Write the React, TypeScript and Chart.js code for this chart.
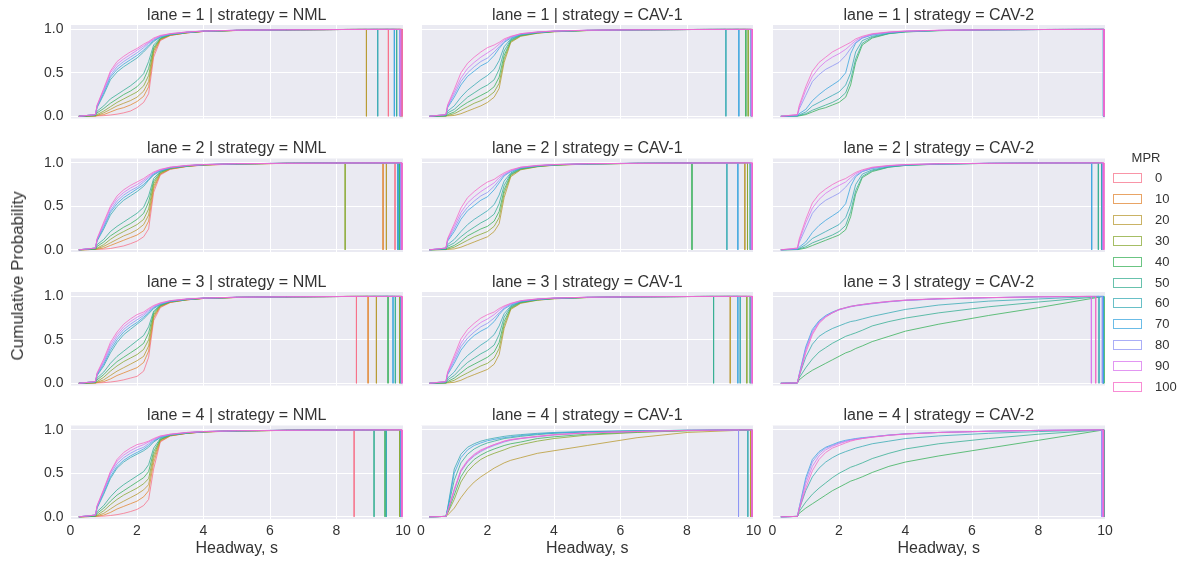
import React, { useEffect, useRef } from "react";
import { Chart, registerables } from "chart.js";

Chart.register(...registerables);

const PAGE_W = 1187;
const PAGE_H = 563;
const FONT = "'Liberation Sans', Arial, Helvetica, sans-serif";
const INK = "#333333";
const PLOT_BG = "#eaeaf2";

// ---------- data ----------
const headwayGrid = [0.25, 0.75, 0.8, 1.0, 1.2, 1.4, 1.6, 1.8, 2.0, 2.2, 2.35, 2.5, 2.7, 3.0, 3.5, 4.0, 5.0, 6.5, 8.0];
const mprLevels = [0, 10, 20, 30, 40, 50, 60, 70, 80, 90, 100];
const mprColors = ["#f77189", "#e18632", "#b89a31", "#88a831", "#39b15a", "#35ae92", "#37abb4", "#3aa5df", "#8d93f4", "#d873ee", "#f566c6"];
const lanes = [1, 2, 3, 4];
const strategies = ["NML", "CAV-1", "CAV-2"];
const nmlMpr = [0, 10, 20, 30, 40, 50, 60, 70, 80, 90, 100];
const cav1Mpr = [20, 30, 40, 50, 60, 70, 80, 90, 100];
const cav2Mpr = [40, 50, 60, 70, 80, 90, 100];
const xTicks = [0, 2, 4, 6, 8, 10];
const yTicks = [0, 0.5, 1.0];

// NML
const nmlLane1 = [
  [0, 0.005, 0.005, 0.008, 0.015, 0.025, 0.04, 0.06, 0.1, 0.16, 0.26, 0.68, 0.87, 0.93, 0.96, 0.975, 0.987, 0.994, 0.998],
  [0, 0.005, 0.008, 0.02, 0.05, 0.08, 0.1, 0.13, 0.17, 0.23, 0.34, 0.72, 0.88, 0.93, 0.96, 0.976, 0.987, 0.994, 0.998],
  [0, 0.005, 0.01, 0.04, 0.08, 0.12, 0.15, 0.18, 0.22, 0.29, 0.4, 0.75, 0.885, 0.935, 0.96, 0.977, 0.988, 0.994, 0.998],
  [0, 0.005, 0.02, 0.06, 0.11, 0.16, 0.2, 0.24, 0.28, 0.35, 0.47, 0.77, 0.89, 0.935, 0.962, 0.977, 0.988, 0.994, 0.998],
  [0, 0.01, 0.04, 0.09, 0.15, 0.2, 0.25, 0.29, 0.34, 0.42, 0.55, 0.79, 0.895, 0.94, 0.963, 0.978, 0.988, 0.995, 0.998],
  [0, 0.01, 0.06, 0.12, 0.2, 0.25, 0.3, 0.35, 0.41, 0.49, 0.63, 0.82, 0.9, 0.94, 0.965, 0.978, 0.988, 0.995, 0.998],
  [0, 0.02, 0.1, 0.25, 0.42, 0.51, 0.57, 0.62, 0.67, 0.74, 0.8, 0.86, 0.91, 0.94, 0.965, 0.978, 0.989, 0.995, 0.998],
  [0, 0.02, 0.11, 0.27, 0.45, 0.54, 0.6, 0.65, 0.7, 0.76, 0.82, 0.87, 0.915, 0.945, 0.967, 0.98, 0.989, 0.995, 0.998],
  [0, 0.02, 0.12, 0.29, 0.47, 0.57, 0.63, 0.68, 0.73, 0.79, 0.84, 0.88, 0.92, 0.945, 0.967, 0.98, 0.99, 0.995, 0.998],
  [0, 0.02, 0.12, 0.31, 0.5, 0.6, 0.66, 0.71, 0.76, 0.81, 0.85, 0.89, 0.925, 0.95, 0.97, 0.98, 0.99, 0.995, 0.998],
  [0, 0.02, 0.13, 0.32, 0.52, 0.63, 0.69, 0.74, 0.78, 0.83, 0.86, 0.9, 0.93, 0.95, 0.97, 0.98, 0.99, 0.995, 0.998],
];
const nmlLane1End = [9.56, 9.99, 8.9, 9.95, 9.93, 9.81, 9.24, 9.74, 9.9, 9.93, 9.97];

const nmlLane2 = [
  [0, 0.005, 0.005, 0.008, 0.015, 0.03, 0.045, 0.07, 0.1, 0.15, 0.24, 0.66, 0.86, 0.925, 0.958, 0.974, 0.986, 0.994, 0.998],
  [0, 0.005, 0.008, 0.02, 0.05, 0.08, 0.11, 0.14, 0.17, 0.22, 0.33, 0.7, 0.87, 0.93, 0.96, 0.975, 0.987, 0.994, 0.998],
  [0, 0.005, 0.012, 0.04, 0.08, 0.12, 0.16, 0.19, 0.23, 0.29, 0.4, 0.73, 0.875, 0.93, 0.96, 0.976, 0.987, 0.994, 0.998],
  [0, 0.006, 0.02, 0.06, 0.12, 0.17, 0.21, 0.25, 0.29, 0.35, 0.47, 0.76, 0.885, 0.935, 0.962, 0.977, 0.988, 0.994, 0.998],
  [0, 0.01, 0.04, 0.09, 0.16, 0.21, 0.26, 0.3, 0.35, 0.42, 0.55, 0.79, 0.89, 0.94, 0.963, 0.978, 0.988, 0.995, 0.998],
  [0, 0.01, 0.06, 0.12, 0.21, 0.27, 0.32, 0.37, 0.42, 0.49, 0.62, 0.82, 0.9, 0.94, 0.965, 0.978, 0.988, 0.995, 0.998],
  [0, 0.02, 0.1, 0.24, 0.4, 0.5, 0.57, 0.62, 0.67, 0.73, 0.8, 0.86, 0.905, 0.94, 0.965, 0.978, 0.989, 0.995, 0.998],
  [0, 0.02, 0.11, 0.26, 0.43, 0.53, 0.6, 0.65, 0.7, 0.75, 0.81, 0.87, 0.91, 0.945, 0.967, 0.98, 0.989, 0.995, 0.998],
  [0, 0.02, 0.12, 0.28, 0.45, 0.56, 0.63, 0.68, 0.72, 0.78, 0.83, 0.875, 0.915, 0.945, 0.967, 0.98, 0.99, 0.995, 0.998],
  [0, 0.02, 0.12, 0.3, 0.48, 0.59, 0.66, 0.71, 0.75, 0.8, 0.845, 0.885, 0.92, 0.95, 0.97, 0.98, 0.99, 0.995, 0.998],
  [0, 0.02, 0.13, 0.32, 0.5, 0.62, 0.69, 0.74, 0.78, 0.82, 0.86, 0.895, 0.925, 0.95, 0.97, 0.98, 0.99, 0.995, 0.998],
];
const nmlLane2End = [9.76, 9.4, 9.5, 8.26, 9.9, 9.85, 9.95, 9.85, 9.93, 9.97, 9.97];

const nmlLane3 = [
  [0, 0.005, 0.005, 0.008, 0.015, 0.025, 0.04, 0.06, 0.08, 0.14, 0.3, 0.72, 0.87, 0.93, 0.96, 0.975, 0.987, 0.994, 0.998],
  [0, 0.005, 0.008, 0.02, 0.05, 0.09, 0.12, 0.15, 0.18, 0.24, 0.37, 0.75, 0.88, 0.93, 0.96, 0.976, 0.987, 0.994, 0.998],
  [0, 0.005, 0.012, 0.04, 0.09, 0.14, 0.18, 0.22, 0.26, 0.31, 0.43, 0.77, 0.885, 0.935, 0.96, 0.977, 0.988, 0.994, 0.998],
  [0, 0.006, 0.02, 0.07, 0.14, 0.2, 0.25, 0.29, 0.33, 0.39, 0.5, 0.79, 0.89, 0.935, 0.962, 0.977, 0.988, 0.994, 0.998],
  [0, 0.01, 0.04, 0.1, 0.18, 0.25, 0.3, 0.35, 0.4, 0.46, 0.58, 0.81, 0.895, 0.94, 0.963, 0.978, 0.988, 0.995, 0.998],
  [0, 0.01, 0.06, 0.13, 0.23, 0.31, 0.37, 0.43, 0.49, 0.55, 0.65, 0.83, 0.9, 0.94, 0.965, 0.978, 0.988, 0.995, 0.998],
  [0, 0.02, 0.09, 0.2, 0.35, 0.47, 0.56, 0.62, 0.68, 0.74, 0.8, 0.86, 0.905, 0.94, 0.965, 0.978, 0.989, 0.995, 0.998],
  [0, 0.02, 0.1, 0.22, 0.38, 0.5, 0.59, 0.65, 0.7, 0.76, 0.81, 0.87, 0.91, 0.945, 0.967, 0.98, 0.989, 0.995, 0.998],
  [0, 0.02, 0.11, 0.24, 0.41, 0.53, 0.62, 0.68, 0.73, 0.78, 0.83, 0.875, 0.915, 0.945, 0.967, 0.98, 0.99, 0.995, 0.998],
  [0, 0.02, 0.11, 0.26, 0.44, 0.56, 0.65, 0.71, 0.76, 0.8, 0.845, 0.885, 0.92, 0.95, 0.97, 0.98, 0.99, 0.995, 0.998],
  [0, 0.02, 0.12, 0.28, 0.47, 0.59, 0.68, 0.74, 0.79, 0.82, 0.86, 0.895, 0.925, 0.95, 0.97, 0.98, 0.99, 0.995, 0.998],
];
const nmlLane3End = [8.6, 8.95, 9.2, 9.9, 9.55, 9.77, 9.93, 9.7, 9.95, 9.97, 9.97];

const nmlLane4 = [
  [0, 0.005, 0.005, 0.008, 0.015, 0.025, 0.04, 0.06, 0.085, 0.13, 0.2, 0.55, 0.86, 0.93, 0.96, 0.975, 0.987, 0.994, 0.998],
  [0, 0.005, 0.008, 0.02, 0.05, 0.09, 0.12, 0.15, 0.18, 0.23, 0.3, 0.62, 0.87, 0.93, 0.96, 0.976, 0.987, 0.994, 0.998],
  [0, 0.005, 0.012, 0.04, 0.09, 0.14, 0.18, 0.22, 0.26, 0.31, 0.37, 0.67, 0.88, 0.935, 0.96, 0.977, 0.988, 0.994, 0.998],
  [0, 0.006, 0.02, 0.07, 0.14, 0.2, 0.25, 0.29, 0.33, 0.38, 0.44, 0.71, 0.885, 0.935, 0.962, 0.977, 0.988, 0.994, 0.998],
  [0, 0.01, 0.04, 0.1, 0.18, 0.25, 0.3, 0.35, 0.4, 0.45, 0.52, 0.75, 0.89, 0.94, 0.963, 0.978, 0.988, 0.995, 0.998],
  [0, 0.01, 0.06, 0.13, 0.23, 0.31, 0.37, 0.42, 0.47, 0.52, 0.6, 0.79, 0.9, 0.94, 0.965, 0.978, 0.988, 0.995, 0.998],
  [0, 0.02, 0.1, 0.26, 0.44, 0.56, 0.63, 0.68, 0.72, 0.76, 0.8, 0.86, 0.91, 0.94, 0.965, 0.978, 0.989, 0.995, 0.998],
  [0, 0.02, 0.11, 0.28, 0.46, 0.58, 0.65, 0.7, 0.74, 0.78, 0.82, 0.87, 0.915, 0.945, 0.967, 0.98, 0.989, 0.995, 0.998],
  [0, 0.02, 0.12, 0.3, 0.49, 0.61, 0.68, 0.73, 0.77, 0.8, 0.84, 0.88, 0.92, 0.945, 0.967, 0.98, 0.99, 0.995, 0.998],
  [0, 0.02, 0.12, 0.31, 0.51, 0.64, 0.71, 0.76, 0.8, 0.83, 0.86, 0.89, 0.925, 0.95, 0.97, 0.98, 0.99, 0.995, 0.998],
  [0, 0.02, 0.13, 0.32, 0.52, 0.66, 0.74, 0.79, 0.83, 0.85, 0.87, 0.9, 0.93, 0.95, 0.97, 0.98, 0.99, 0.995, 0.998],
];
const nmlLane4End = [8.53, 9.95, 9.93, 9.9, 9.46, 9.13, 9.5, 9.93, 9.95, 9.97, 9.97];

// CAV-1
const cav1Lane1 = [
  [0, 0.003, 0.005, 0.01, 0.03, 0.06, 0.09, 0.12, 0.16, 0.22, 0.32, 0.62, 0.85, 0.92, 0.955, 0.972, 0.986, 0.994, 0.998],
  [0, 0.004, 0.01, 0.03, 0.07, 0.11, 0.15, 0.18, 0.22, 0.28, 0.38, 0.66, 0.86, 0.925, 0.957, 0.974, 0.987, 0.994, 0.998],
  [0, 0.005, 0.02, 0.05, 0.11, 0.16, 0.2, 0.24, 0.28, 0.34, 0.45, 0.7, 0.87, 0.93, 0.96, 0.975, 0.987, 0.994, 0.998],
  [0, 0.008, 0.04, 0.08, 0.15, 0.22, 0.27, 0.32, 0.36, 0.42, 0.54, 0.75, 0.88, 0.935, 0.962, 0.976, 0.988, 0.995, 0.998],
  [0, 0.01, 0.06, 0.12, 0.22, 0.3, 0.36, 0.42, 0.47, 0.54, 0.64, 0.8, 0.89, 0.94, 0.965, 0.978, 0.988, 0.995, 0.998],
  [0, 0.02, 0.1, 0.22, 0.36, 0.46, 0.52, 0.58, 0.62, 0.7, 0.78, 0.85, 0.9, 0.94, 0.965, 0.978, 0.989, 0.995, 0.998],
  [0, 0.02, 0.11, 0.25, 0.4, 0.5, 0.57, 0.63, 0.67, 0.74, 0.8, 0.86, 0.91, 0.945, 0.967, 0.98, 0.989, 0.995, 0.998],
  [0, 0.02, 0.12, 0.28, 0.44, 0.55, 0.62, 0.68, 0.73, 0.78, 0.83, 0.875, 0.915, 0.95, 0.97, 0.98, 0.99, 0.995, 0.998],
  [0, 0.02, 0.13, 0.31, 0.5, 0.61, 0.68, 0.74, 0.79, 0.82, 0.85, 0.89, 0.92, 0.95, 0.97, 0.98, 0.99, 0.995, 0.998],
];
const cav1Lane1End = [9.95, 9.84, 9.77, 9.93, 9.17, 9.56, 9.93, 9.95, 9.97];

const cav1Lane2 = [
  [0, 0.003, 0.005, 0.01, 0.03, 0.06, 0.09, 0.12, 0.15, 0.21, 0.3, 0.6, 0.84, 0.92, 0.955, 0.972, 0.986, 0.994, 0.998],
  [0, 0.004, 0.01, 0.03, 0.07, 0.11, 0.15, 0.18, 0.21, 0.27, 0.37, 0.65, 0.855, 0.925, 0.957, 0.974, 0.987, 0.994, 0.998],
  [0, 0.005, 0.02, 0.05, 0.1, 0.16, 0.2, 0.24, 0.27, 0.33, 0.44, 0.69, 0.865, 0.93, 0.96, 0.975, 0.987, 0.994, 0.998],
  [0, 0.008, 0.04, 0.08, 0.15, 0.21, 0.26, 0.31, 0.35, 0.41, 0.53, 0.74, 0.875, 0.935, 0.962, 0.976, 0.988, 0.995, 0.998],
  [0, 0.01, 0.06, 0.12, 0.21, 0.29, 0.35, 0.4, 0.45, 0.52, 0.63, 0.79, 0.885, 0.94, 0.965, 0.978, 0.988, 0.995, 0.998],
  [0, 0.02, 0.1, 0.21, 0.35, 0.45, 0.51, 0.57, 0.61, 0.69, 0.77, 0.85, 0.9, 0.94, 0.965, 0.978, 0.989, 0.995, 0.998],
  [0, 0.02, 0.11, 0.24, 0.39, 0.49, 0.56, 0.62, 0.66, 0.73, 0.8, 0.86, 0.905, 0.945, 0.967, 0.98, 0.989, 0.995, 0.998],
  [0, 0.02, 0.12, 0.27, 0.43, 0.54, 0.61, 0.67, 0.72, 0.77, 0.83, 0.87, 0.91, 0.95, 0.97, 0.98, 0.99, 0.995, 0.998],
  [0, 0.02, 0.13, 0.3, 0.48, 0.6, 0.67, 0.73, 0.78, 0.81, 0.85, 0.885, 0.92, 0.95, 0.97, 0.98, 0.99, 0.995, 0.998],
];
const cav1Lane2End = [9.74, 9.82, 8.15, 9.9, 9.2, 9.53, 9.93, 9.95, 9.97];

const cav1Lane3 = [
  [0, 0.003, 0.005, 0.012, 0.035, 0.07, 0.1, 0.13, 0.16, 0.22, 0.33, 0.63, 0.85, 0.92, 0.955, 0.972, 0.986, 0.994, 0.998],
  [0, 0.004, 0.01, 0.035, 0.08, 0.12, 0.16, 0.2, 0.23, 0.29, 0.4, 0.67, 0.86, 0.925, 0.957, 0.974, 0.987, 0.994, 0.998],
  [0, 0.005, 0.02, 0.06, 0.12, 0.18, 0.22, 0.26, 0.3, 0.36, 0.47, 0.71, 0.87, 0.93, 0.96, 0.975, 0.987, 0.994, 0.998],
  [0, 0.008, 0.04, 0.09, 0.17, 0.24, 0.29, 0.34, 0.38, 0.44, 0.56, 0.76, 0.88, 0.935, 0.962, 0.976, 0.988, 0.995, 0.998],
  [0, 0.01, 0.06, 0.13, 0.24, 0.32, 0.38, 0.44, 0.49, 0.56, 0.66, 0.8, 0.89, 0.94, 0.965, 0.978, 0.988, 0.995, 0.998],
  [0, 0.02, 0.1, 0.23, 0.38, 0.48, 0.55, 0.6, 0.64, 0.71, 0.79, 0.855, 0.9, 0.94, 0.965, 0.978, 0.989, 0.995, 0.998],
  [0, 0.02, 0.11, 0.26, 0.42, 0.52, 0.59, 0.65, 0.69, 0.75, 0.81, 0.865, 0.91, 0.945, 0.967, 0.98, 0.989, 0.995, 0.998],
  [0, 0.02, 0.12, 0.29, 0.46, 0.57, 0.64, 0.7, 0.74, 0.79, 0.84, 0.88, 0.915, 0.95, 0.97, 0.98, 0.99, 0.995, 0.998],
  [0, 0.02, 0.13, 0.32, 0.51, 0.62, 0.69, 0.75, 0.79, 0.82, 0.86, 0.89, 0.92, 0.95, 0.97, 0.98, 0.99, 0.995, 0.998],
];
const cav1Lane3End = [9.3, 9.8, 9.9, 8.8, 9.6, 9.53, 9.93, 9.95, 9.97];

const cav1Lane4 = [
  [0, 0.005, 0.02, 0.1, 0.22, 0.32, 0.4, 0.46, 0.51, 0.56, 0.59, 0.62, 0.65, 0.68, 0.73, 0.76, 0.82, 0.91, 0.97],
  [0, 0.005, 0.04, 0.2, 0.4, 0.52, 0.6, 0.66, 0.7, 0.73, 0.75, 0.77, 0.8, 0.83, 0.87, 0.9, 0.94, 0.97, 0.99],
  [0, 0.005, 0.05, 0.25, 0.46, 0.58, 0.66, 0.71, 0.75, 0.78, 0.8, 0.82, 0.84, 0.86, 0.9, 0.92, 0.95, 0.975, 0.99],
  [0, 0.005, 0.08, 0.42, 0.62, 0.72, 0.78, 0.82, 0.85, 0.87, 0.885, 0.9, 0.91, 0.925, 0.945, 0.96, 0.975, 0.987, 0.995],
  [0, 0.005, 0.1, 0.55, 0.72, 0.8, 0.84, 0.87, 0.89, 0.905, 0.915, 0.925, 0.935, 0.945, 0.96, 0.97, 0.982, 0.99, 0.996],
  [0, 0.005, 0.09, 0.5, 0.68, 0.77, 0.82, 0.85, 0.875, 0.89, 0.9, 0.91, 0.92, 0.935, 0.952, 0.965, 0.978, 0.988, 0.995],
  [0, 0.005, 0.06, 0.3, 0.52, 0.63, 0.7, 0.75, 0.79, 0.82, 0.84, 0.86, 0.88, 0.9, 0.92, 0.94, 0.965, 0.98, 0.993],
  [0, 0.005, 0.06, 0.32, 0.54, 0.65, 0.72, 0.77, 0.8, 0.83, 0.85, 0.87, 0.89, 0.905, 0.925, 0.945, 0.967, 0.982, 0.994],
  [0, 0.005, 0.06, 0.31, 0.53, 0.64, 0.71, 0.76, 0.8, 0.83, 0.85, 0.87, 0.885, 0.9, 0.925, 0.943, 0.966, 0.981, 0.994],
];
const cav1Lane4End = [9.91, 9.95, 9.95, 9.95, 9.83, 9.95, 9.55, 9.95, 9.96];

// CAV-2
const cav2Lane1 = [
  [0, 0.003, 0.005, 0.02, 0.05, 0.08, 0.1, 0.13, 0.16, 0.22, 0.36, 0.62, 0.82, 0.9, 0.95, 0.97, 0.985, 0.994, 0.998],
  [0, 0.004, 0.01, 0.03, 0.07, 0.1, 0.13, 0.16, 0.2, 0.27, 0.42, 0.66, 0.84, 0.91, 0.952, 0.972, 0.986, 0.994, 0.998],
  [0, 0.005, 0.015, 0.05, 0.12, 0.16, 0.2, 0.24, 0.28, 0.36, 0.5, 0.74, 0.87, 0.92, 0.955, 0.974, 0.987, 0.994, 0.998],
  [0, 0.008, 0.03, 0.08, 0.18, 0.25, 0.31, 0.36, 0.41, 0.5, 0.72, 0.84, 0.9, 0.935, 0.962, 0.976, 0.988, 0.995, 0.998],
  [0, 0.01, 0.08, 0.24, 0.4, 0.48, 0.54, 0.58, 0.62, 0.7, 0.78, 0.85, 0.9, 0.94, 0.965, 0.978, 0.988, 0.995, 0.998],
  [0, 0.02, 0.1, 0.3, 0.46, 0.56, 0.63, 0.68, 0.72, 0.77, 0.82, 0.87, 0.91, 0.945, 0.967, 0.98, 0.989, 0.995, 0.998],
  [0, 0.02, 0.12, 0.34, 0.52, 0.62, 0.68, 0.74, 0.78, 0.82, 0.85, 0.89, 0.92, 0.95, 0.97, 0.98, 0.99, 0.995, 0.998],
];
const cav2Lane1End = [9.97, 9.96, 9.97, 9.95, 9.97, 9.97, 9.97];

const cav2Lane2 = [
  [0, 0.003, 0.005, 0.02, 0.05, 0.08, 0.11, 0.14, 0.17, 0.23, 0.38, 0.64, 0.83, 0.9, 0.95, 0.97, 0.985, 0.994, 0.998],
  [0, 0.004, 0.01, 0.035, 0.08, 0.11, 0.14, 0.17, 0.21, 0.28, 0.44, 0.68, 0.845, 0.91, 0.952, 0.972, 0.986, 0.994, 0.998],
  [0, 0.005, 0.015, 0.06, 0.13, 0.17, 0.21, 0.25, 0.29, 0.37, 0.52, 0.75, 0.87, 0.92, 0.955, 0.974, 0.987, 0.994, 0.998],
  [0, 0.008, 0.03, 0.09, 0.2, 0.28, 0.34, 0.39, 0.44, 0.53, 0.73, 0.84, 0.9, 0.935, 0.962, 0.976, 0.988, 0.995, 0.998],
  [0, 0.01, 0.08, 0.25, 0.42, 0.51, 0.57, 0.61, 0.65, 0.72, 0.79, 0.855, 0.9, 0.94, 0.965, 0.978, 0.988, 0.995, 0.998],
  [0, 0.02, 0.1, 0.31, 0.48, 0.58, 0.65, 0.7, 0.74, 0.78, 0.83, 0.875, 0.91, 0.945, 0.967, 0.98, 0.989, 0.995, 0.998],
  [0, 0.02, 0.12, 0.35, 0.54, 0.64, 0.7, 0.75, 0.79, 0.82, 0.855, 0.89, 0.92, 0.95, 0.97, 0.98, 0.99, 0.995, 0.998],
];
const cav2Lane2End = [9.9, 9.8, 9.9, 9.6, 9.93, 9.95, 9.97];

const cav2Lane3 = [
  [0, 0.005, 0.04, 0.1, 0.15, 0.19, 0.23, 0.27, 0.31, 0.35, 0.37, 0.4, 0.43, 0.48, 0.54, 0.6, 0.68, 0.78, 0.87],
  [0, 0.005, 0.06, 0.18, 0.28, 0.36, 0.41, 0.46, 0.5, 0.54, 0.56, 0.58, 0.61, 0.66, 0.71, 0.75, 0.81, 0.88, 0.935],
  [0, 0.005, 0.08, 0.3, 0.45, 0.54, 0.59, 0.63, 0.66, 0.69, 0.71, 0.72, 0.74, 0.77, 0.81, 0.85, 0.9, 0.945, 0.97],
  [0, 0.005, 0.1, 0.42, 0.62, 0.72, 0.78, 0.82, 0.85, 0.87, 0.885, 0.895, 0.905, 0.92, 0.94, 0.955, 0.972, 0.985, 0.995],
  [0, 0.005, 0.09, 0.4, 0.6, 0.71, 0.77, 0.81, 0.845, 0.865, 0.88, 0.89, 0.9, 0.915, 0.937, 0.953, 0.97, 0.984, 0.994],
  [0, 0.005, 0.09, 0.38, 0.58, 0.7, 0.77, 0.81, 0.845, 0.868, 0.882, 0.893, 0.905, 0.92, 0.94, 0.955, 0.972, 0.985, 0.995],
  [0, 0.005, 0.08, 0.35, 0.56, 0.69, 0.76, 0.81, 0.85, 0.87, 0.885, 0.895, 0.907, 0.922, 0.942, 0.957, 0.973, 0.986, 0.995],
];
const cav2Lane3End = [9.97, 9.95, 9.82, 9.95, 9.92, 9.59, 9.72];

const cav2Lane4 = [
  [0, 0.005, 0.04, 0.1, 0.15, 0.2, 0.25, 0.3, 0.34, 0.38, 0.41, 0.43, 0.46, 0.51, 0.58, 0.63, 0.7, 0.79, 0.88],
  [0, 0.005, 0.06, 0.17, 0.26, 0.33, 0.39, 0.45, 0.5, 0.54, 0.57, 0.59, 0.62, 0.67, 0.73, 0.78, 0.84, 0.9, 0.95],
  [0, 0.005, 0.08, 0.3, 0.46, 0.56, 0.63, 0.68, 0.72, 0.75, 0.77, 0.79, 0.81, 0.84, 0.87, 0.9, 0.93, 0.96, 0.98],
  [0, 0.005, 0.1, 0.45, 0.66, 0.75, 0.8, 0.83, 0.86, 0.88, 0.89, 0.9, 0.91, 0.92, 0.94, 0.955, 0.97, 0.984, 0.994],
  [0, 0.005, 0.1, 0.42, 0.63, 0.73, 0.79, 0.82, 0.85, 0.87, 0.885, 0.895, 0.905, 0.92, 0.94, 0.953, 0.97, 0.984, 0.994],
  [0, 0.005, 0.09, 0.38, 0.58, 0.7, 0.77, 0.81, 0.84, 0.865, 0.88, 0.89, 0.9, 0.918, 0.938, 0.952, 0.97, 0.984, 0.994],
  [0, 0.005, 0.08, 0.33, 0.53, 0.66, 0.74, 0.79, 0.82, 0.85, 0.87, 0.885, 0.9, 0.915, 0.937, 0.952, 0.97, 0.984, 0.994],
];
const cav2Lane4End = [9.97, 9.97, 9.96, 9.95, 9.9, 9.93, 9.96];

// ---------- assembly (built from the arrays above) ----------
const strategyMprs = [nmlMpr, cav1Mpr, cav2Mpr];
const panelCurves = [
  [nmlLane1, cav1Lane1, cav2Lane1],
  [nmlLane2, cav1Lane2, cav2Lane2],
  [nmlLane3, cav1Lane3, cav2Lane3],
  [nmlLane4, cav1Lane4, cav2Lane4],
];
const panelEnds = [
  [nmlLane1End, cav1Lane1End, cav2Lane1End],
  [nmlLane2End, cav1Lane2End, cav2Lane2End],
  [nmlLane3End, cav1Lane3End, cav2Lane3End],
  [nmlLane4End, cav1Lane4End, cav2Lane4End],
];

// ---------- layout ----------
const COL_LEFT = [70.5, 421, 772.5];
const PLOT_W = 332.5;
const ROW_TOP = [25, 158.5, 292, 425.5];
const PLOT_H = 93.5;
const Y_AXIS_W = 60;
const TITLE_H = 19.2;
const X_AXIS_H = 43;

function rgba(hex: string, a: number) {
  const n = parseInt(hex.slice(1), 16);
  return `rgba(${(n >> 16) & 255},${(n >> 8) & 255},${n & 255},${a})`;
}

const plotBgPlugin = {
  id: "plotBg",
  beforeDraw(chart: any) {
    const { ctx, chartArea: a } = chart;
    ctx.save();
    ctx.fillStyle = PLOT_BG;
    ctx.fillRect(a.left, a.top, a.right - a.left, a.bottom - a.top);
    ctx.restore();
  },
};

function Panel({ row, col }: { row: number; col: number }) {
  const ref = useRef<HTMLCanvasElement | null>(null);
  useEffect(() => {
    if (!ref.current) return;
    const isBottom = row === lanes.length - 1;
    const isLeft = col === 0;
    const curves = panelCurves[row][col];
    const ends = panelEnds[row][col];
    const mprs = strategyMprs[col];
    const datasets = curves.map((ys: number[], i: number) => {
      const end = ends[i];
      const pts: { x: number; y: number }[] = [];
      headwayGrid.forEach((x, j) => {
        if (x < end && j < ys.length) pts.push({ x, y: ys[j] });
      });
      pts.push({ x: end, y: 1 });
      pts.push({ x: end, y: 0 });
      const color = mprColors[mprLevels.indexOf(mprs[i])];
      return {
        label: String(mprs[i]),
        data: pts,
        borderColor: rgba(color, 0.78),
        backgroundColor: "transparent",
        borderWidth: 1,
        pointRadius: 0,
        fill: false,
        tension: 0,
      };
    });
    const left = COL_LEFT[col];
    const top = ROW_TOP[row];
    const chart = new Chart(ref.current, {
      type: "line",
      data: { datasets: datasets.reverse() as any },
      plugins: [plotBgPlugin],
      options: {
        responsive: false,
        animation: false,
        devicePixelRatio: 1,
        layout: {
          padding: {
            left: left - Y_AXIS_W,
            top: top - TITLE_H,
            right: PAGE_W - (left + PLOT_W),
            bottom: PAGE_H - (top + PLOT_H) - (isBottom ? X_AXIS_H : 0),
          },
        },
        plugins: {
          legend: { display: false },
          tooltip: { enabled: false },
          title: {
            display: true,
            text: `lane = ${lanes[row]} | strategy = ${strategies[col]}`,
            font: { family: FONT, size: 16, weight: "normal", lineHeight: 1.2 },
            color: INK,
            padding: 0,
            fullSize: false,
          } as any,
        },
        scales: {
          x: {
            type: "linear",
            min: 0,
            max: 10,
            afterBuildTicks: (s: any) => {
              s.ticks = xTicks.map((v) => ({ value: v }));
            },
            ticks: {
              display: isBottom,
              font: { family: FONT, size: 14 },
              color: INK,
              padding: 4,
              maxRotation: 0,
              autoSkip: false,
              callback: (v: any) => String(v),
            },
            grid: { color: "#ffffff", lineWidth: 1, drawTicks: false },
            border: { display: false },
            title: {
              display: isBottom,
              text: "Headway, s",
              font: { family: FONT, size: 16 },
              color: INK,
              padding: { top: 4, bottom: 4 },
            },
            afterFit: (s: any) => {
              s.height = isBottom ? X_AXIS_H : 0;
              s.paddingLeft = 0;
              s.paddingRight = 0;
              s.paddingTop = 0;
              s.paddingBottom = 0;
            },
          },
          y: {
            type: "linear",
            min: -0.025,
            max: 1.05,
            afterBuildTicks: (s: any) => {
              s.ticks = yTicks.map((v) => ({ value: v }));
            },
            ticks: {
              display: isLeft,
              font: { family: FONT, size: 14 },
              color: INK,
              padding: 7,
              callback: (v: any) => Number(v).toFixed(1),
            },
            grid: { color: "#ffffff", lineWidth: 1, drawTicks: false },
            border: { display: false },
            afterFit: (s: any) => {
              s.width = Y_AXIS_W;
              s.paddingLeft = 0;
              s.paddingRight = 0;
              s.paddingTop = 0;
              s.paddingBottom = 0;
            },
          },
        },
      } as any,
    });
    return () => chart.destroy();
  }, [row, col]);
  return (
    <canvas
      ref={ref}
      width={PAGE_W}
      height={PAGE_H}
      style={{ position: "absolute", left: 0, top: 0, width: PAGE_W, height: PAGE_H, pointerEvents: "none" }}
    />
  );
}

export default function App() {
  const legendTop = 177.7;
  const legendStep = 20.96;
  return (
    <div style={{ position: "absolute", left: 0, top: 0, width: PAGE_W, height: PAGE_H, background: "#ffffff", overflow: "hidden", fontFamily: FONT }}>
      {lanes.map((_, r) => strategies.map((__, c) => <Panel key={`${r}-${c}`} row={r} col={c} />))}
      <div
        style={{
          position: "absolute",
          left: 17.5,
          top: 276,
          transform: "translate(-50%, -50%) rotate(-90deg)",
          whiteSpace: "nowrap",
          fontSize: 17,
          color: INK,
          lineHeight: "20px",
        }}
      >
        Cumulative Probability
      </div>
      <div
        style={{
          position: "absolute",
          left: 1146,
          top: 158.3,
          transform: "translate(-50%, -50%)",
          fontSize: 13,
          color: INK,
          lineHeight: "16px",
        }}
      >
        MPR
      </div>
      {mprLevels.map((m, i) => (
        <React.Fragment key={m}>
          <div
            style={{
              position: "absolute",
              left: 1113,
              top: legendTop + i * legendStep - 5,
              width: 29,
              height: 10,
              boxSizing: "border-box",
              border: `1px solid ${rgba(mprColors[i], 0.75)}`,
            }}
          />
          <div
            style={{
              position: "absolute",
              left: 1155,
              top: legendTop + i * legendStep - 8,
              fontSize: 13,
              lineHeight: "16px",
              color: INK,
            }}
          >
            {m}
          </div>
        </React.Fragment>
      ))}
    </div>
  );
}
